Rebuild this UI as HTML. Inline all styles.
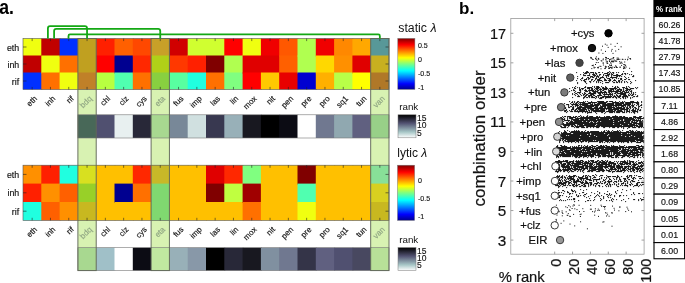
<!DOCTYPE html>
<html><head><meta charset="utf-8"><title>figure</title>
<style>html,body{margin:0;padding:0;background:#fff}svg{display:block}</style></head>
<body>
<svg width="685" height="283" viewBox="0 0 685 283" font-family='"Liberation Sans", sans-serif'>
<rect width="685" height="283" fill="#fff"/>
<defs>
<linearGradient id="jet" x1="0" y1="1" x2="0" y2="0"><stop offset="0" stop-color="#00008f"/><stop offset="0.11" stop-color="#0000ff"/><stop offset="0.365" stop-color="#00ffff"/><stop offset="0.5" stop-color="#80ff80"/><stop offset="0.62" stop-color="#ffff00"/><stop offset="0.875" stop-color="#ff0000"/><stop offset="1" stop-color="#800000"/></linearGradient>
<linearGradient id="bone" x1="0" y1="0" x2="0" y2="1"><stop offset="0" stop-color="#000000"/><stop offset="0.365" stop-color="#515171"/><stop offset="0.746" stop-color="#a6c6c6"/><stop offset="1" stop-color="#ffffff"/></linearGradient>
</defs>
<rect x="77.9" y="38.5" width="18.3" height="232.1" fill="#d8f2b2"/>
<rect x="151.1" y="38.5" width="18.3" height="232.1" fill="#d8f2b2"/>
<rect x="370.7" y="38.5" width="18.3" height="232.1" fill="#d8f2b2"/>
<rect x="23" y="38.5" width="19.3" height="18" fill="#f0ff10"/>
<rect x="23" y="55.5" width="19.3" height="18" fill="#c00000"/>
<rect x="23" y="72.5" width="19.3" height="17" fill="#0030ff"/>
<rect x="41.3" y="38.5" width="19.3" height="18" fill="#c00000"/>
<rect x="41.3" y="55.5" width="19.3" height="18" fill="#f0ff10"/>
<rect x="41.3" y="72.5" width="19.3" height="17" fill="#ff7000"/>
<rect x="59.6" y="38.5" width="19.3" height="18" fill="#0030ff"/>
<rect x="59.6" y="55.5" width="19.3" height="18" fill="#ff7000"/>
<rect x="59.6" y="72.5" width="19.3" height="17" fill="#f0ff10"/>
<rect x="77.9" y="38.5" width="19.3" height="18" fill="#c0a020"/>
<rect x="77.9" y="55.5" width="19.3" height="18" fill="#c0a020"/>
<rect x="77.9" y="72.5" width="19.3" height="17" fill="#c08028"/>
<rect x="96.2" y="38.5" width="19.3" height="18" fill="#ff2000"/>
<rect x="96.2" y="55.5" width="19.3" height="18" fill="#ff0000"/>
<rect x="96.2" y="72.5" width="19.3" height="17" fill="#b8ff40"/>
<rect x="114.5" y="38.5" width="19.3" height="18" fill="#ff6000"/>
<rect x="114.5" y="55.5" width="19.3" height="18" fill="#000090"/>
<rect x="114.5" y="72.5" width="19.3" height="17" fill="#50ffb0"/>
<rect x="132.8" y="38.5" width="19.3" height="18" fill="#ff4800"/>
<rect x="132.8" y="55.5" width="19.3" height="18" fill="#ff2800"/>
<rect x="132.8" y="72.5" width="19.3" height="17" fill="#ff7000"/>
<rect x="151.1" y="38.5" width="19.3" height="18" fill="#c8a028"/>
<rect x="151.1" y="55.5" width="19.3" height="18" fill="#b0d018"/>
<rect x="151.1" y="72.5" width="19.3" height="17" fill="#88d040"/>
<rect x="169.4" y="38.5" width="19.3" height="18" fill="#d00000"/>
<rect x="169.4" y="55.5" width="19.3" height="18" fill="#ff3800"/>
<rect x="169.4" y="72.5" width="19.3" height="17" fill="#58ffa0"/>
<rect x="187.7" y="38.5" width="19.3" height="18" fill="#d0ff30"/>
<rect x="187.7" y="55.5" width="19.3" height="18" fill="#ff2000"/>
<rect x="187.7" y="72.5" width="19.3" height="17" fill="#20ffe0"/>
<rect x="206" y="38.5" width="19.3" height="18" fill="#d0ff30"/>
<rect x="206" y="55.5" width="19.3" height="18" fill="#800000"/>
<rect x="206" y="72.5" width="19.3" height="17" fill="#ff7000"/>
<rect x="224.3" y="38.5" width="19.3" height="18" fill="#ff0000"/>
<rect x="224.3" y="55.5" width="19.3" height="18" fill="#b0ff50"/>
<rect x="224.3" y="72.5" width="19.3" height="17" fill="#80ff80"/>
<rect x="242.6" y="38.5" width="19.3" height="18" fill="#f0ff10"/>
<rect x="242.6" y="55.5" width="19.3" height="18" fill="#e00000"/>
<rect x="242.6" y="72.5" width="19.3" height="17" fill="#ff0000"/>
<rect x="260.9" y="38.5" width="19.3" height="18" fill="#f00000"/>
<rect x="260.9" y="55.5" width="19.3" height="18" fill="#e00000"/>
<rect x="260.9" y="72.5" width="19.3" height="17" fill="#ffc800"/>
<rect x="279.2" y="38.5" width="19.3" height="18" fill="#ff5800"/>
<rect x="279.2" y="55.5" width="19.3" height="18" fill="#ff6000"/>
<rect x="279.2" y="72.5" width="19.3" height="17" fill="#e80000"/>
<rect x="297.5" y="38.5" width="19.3" height="18" fill="#b0ff50"/>
<rect x="297.5" y="55.5" width="19.3" height="18" fill="#b0ff50"/>
<rect x="297.5" y="72.5" width="19.3" height="17" fill="#0000d0"/>
<rect x="315.8" y="38.5" width="19.3" height="18" fill="#f00000"/>
<rect x="315.8" y="55.5" width="19.3" height="18" fill="#ffd800"/>
<rect x="315.8" y="72.5" width="19.3" height="17" fill="#ffb000"/>
<rect x="334.1" y="38.5" width="19.3" height="18" fill="#ff8800"/>
<rect x="334.1" y="55.5" width="19.3" height="18" fill="#ff9000"/>
<rect x="334.1" y="72.5" width="19.3" height="17" fill="#b8ff48"/>
<rect x="352.4" y="38.5" width="19.3" height="18" fill="#ffa800"/>
<rect x="352.4" y="55.5" width="19.3" height="18" fill="#e00000"/>
<rect x="352.4" y="72.5" width="19.3" height="17" fill="#ffff00"/>
<rect x="370.7" y="38.5" width="18.3" height="18" fill="#589898"/>
<rect x="370.7" y="55.5" width="18.3" height="18" fill="#c8b020"/>
<rect x="370.7" y="72.5" width="18.3" height="17" fill="#b07828"/>
<rect x="23.0" y="38.5" width="366" height="51" fill="none" stroke="#555" stroke-width="0.6"/>
<path d="M32.15 38.5v2.6M32.15 89.5v-2.6M50.45 38.5v2.6M50.45 89.5v-2.6M68.75 38.5v2.6M68.75 89.5v-2.6M87.05 38.5v2.6M87.05 89.5v-2.6M105.35 38.5v2.6M105.35 89.5v-2.6M123.65 38.5v2.6M123.65 89.5v-2.6M141.95 38.5v2.6M141.95 89.5v-2.6M160.25 38.5v2.6M160.25 89.5v-2.6M178.55 38.5v2.6M178.55 89.5v-2.6M196.85 38.5v2.6M196.85 89.5v-2.6M215.15 38.5v2.6M215.15 89.5v-2.6M233.45 38.5v2.6M233.45 89.5v-2.6M251.75 38.5v2.6M251.75 89.5v-2.6M270.05 38.5v2.6M270.05 89.5v-2.6M288.35 38.5v2.6M288.35 89.5v-2.6M306.65 38.5v2.6M306.65 89.5v-2.6M324.95 38.5v2.6M324.95 89.5v-2.6M343.25 38.5v2.6M343.25 89.5v-2.6M361.55 38.5v2.6M361.55 89.5v-2.6M379.85 38.5v2.6M379.85 89.5v-2.6M23.0 47h3.5M389 47h-3.5M23.0 64h3.5M389 64h-3.5M23.0 81h3.5M389 81h-3.5" stroke="#222" stroke-width="0.6" fill="none"/>
<text x="19.2" y="50.6" font-size="8.8" text-anchor="end" fill="#111" stroke="#111" stroke-width="0.15">eth</text>
<text x="19.2" y="67.6" font-size="8.8" text-anchor="end" fill="#111" stroke="#111" stroke-width="0.15">inh</text>
<text x="19.2" y="84.6" font-size="8.8" text-anchor="end" fill="#111" stroke="#111" stroke-width="0.15">rif</text>
<text transform="translate(37.65 99.1) rotate(-45)" font-size="8.0" text-anchor="end" fill="#111" stroke="#111" stroke-width="0.15">eth</text>
<text transform="translate(55.95 99.1) rotate(-45)" font-size="8.0" text-anchor="end" fill="#111" stroke="#111" stroke-width="0.15">inh</text>
<text transform="translate(74.25 99.1) rotate(-45)" font-size="8.0" text-anchor="end" fill="#111" stroke="#111" stroke-width="0.15">rif</text>
<text transform="translate(92.55 99.1) rotate(-45)" font-size="8.0" text-anchor="end" fill="#8fa583" stroke="#8fa583" stroke-width="0.15">bdq</text>
<text transform="translate(110.85 99.1) rotate(-45)" font-size="8.0" text-anchor="end" fill="#111" stroke="#111" stroke-width="0.15">chl</text>
<text transform="translate(129.15 99.1) rotate(-45)" font-size="8.0" text-anchor="end" fill="#111" stroke="#111" stroke-width="0.15">clz</text>
<text transform="translate(147.45 99.1) rotate(-45)" font-size="8.0" text-anchor="end" fill="#111" stroke="#111" stroke-width="0.15">cys</text>
<text transform="translate(165.75 99.1) rotate(-45)" font-size="8.0" text-anchor="end" fill="#8fa583" stroke="#8fa583" stroke-width="0.15">eta</text>
<text transform="translate(184.05 99.1) rotate(-45)" font-size="8.0" text-anchor="end" fill="#111" stroke="#111" stroke-width="0.15">fus</text>
<text transform="translate(202.35 99.1) rotate(-45)" font-size="8.0" text-anchor="end" fill="#111" stroke="#111" stroke-width="0.15">imp</text>
<text transform="translate(220.65 99.1) rotate(-45)" font-size="8.0" text-anchor="end" fill="#111" stroke="#111" stroke-width="0.15">las</text>
<text transform="translate(238.95 99.1) rotate(-45)" font-size="8.0" text-anchor="end" fill="#111" stroke="#111" stroke-width="0.15">lin</text>
<text transform="translate(257.25 99.1) rotate(-45)" font-size="8.0" text-anchor="end" fill="#111" stroke="#111" stroke-width="0.15">mox</text>
<text transform="translate(275.55 99.1) rotate(-45)" font-size="8.0" text-anchor="end" fill="#111" stroke="#111" stroke-width="0.15">nit</text>
<text transform="translate(293.85 99.1) rotate(-45)" font-size="8.0" text-anchor="end" fill="#111" stroke="#111" stroke-width="0.15">pen</text>
<text transform="translate(312.15 99.1) rotate(-45)" font-size="8.0" text-anchor="end" fill="#111" stroke="#111" stroke-width="0.15">pre</text>
<text transform="translate(330.45 99.1) rotate(-45)" font-size="8.0" text-anchor="end" fill="#111" stroke="#111" stroke-width="0.15">pro</text>
<text transform="translate(348.75 99.1) rotate(-45)" font-size="8.0" text-anchor="end" fill="#111" stroke="#111" stroke-width="0.15">sq1</text>
<text transform="translate(367.05 99.1) rotate(-45)" font-size="8.0" text-anchor="end" fill="#111" stroke="#111" stroke-width="0.15">tun</text>
<text transform="translate(385.35 99.1) rotate(-45)" font-size="8.0" text-anchor="end" fill="#8fa583" stroke="#8fa583" stroke-width="0.15">van</text>
<rect x="23" y="165.2" width="19.3" height="19.4" fill="#ff9000"/>
<rect x="23" y="183.6" width="19.3" height="19.4" fill="#ff2000"/>
<rect x="23" y="202" width="19.3" height="18.4" fill="#20ffe0"/>
<rect x="41.3" y="165.2" width="19.3" height="19.4" fill="#ff2000"/>
<rect x="41.3" y="183.6" width="19.3" height="19.4" fill="#ff9000"/>
<rect x="41.3" y="202" width="19.3" height="18.4" fill="#ff6000"/>
<rect x="59.6" y="165.2" width="19.3" height="19.4" fill="#20ffe0"/>
<rect x="59.6" y="183.6" width="19.3" height="19.4" fill="#ff6000"/>
<rect x="59.6" y="202" width="19.3" height="18.4" fill="#ff9000"/>
<rect x="77.9" y="165.2" width="19.3" height="19.4" fill="#d8e020"/>
<rect x="77.9" y="183.6" width="19.3" height="19.4" fill="#98d028"/>
<rect x="77.9" y="202" width="19.3" height="18.4" fill="#c8b820"/>
<rect x="96.2" y="165.2" width="19.3" height="19.4" fill="#ffc000"/>
<rect x="96.2" y="183.6" width="19.3" height="19.4" fill="#ffc000"/>
<rect x="96.2" y="202" width="19.3" height="18.4" fill="#ffc000"/>
<rect x="114.5" y="165.2" width="19.3" height="19.4" fill="#ffc000"/>
<rect x="114.5" y="183.6" width="19.3" height="19.4" fill="#000090"/>
<rect x="114.5" y="202" width="19.3" height="18.4" fill="#ffc000"/>
<rect x="132.8" y="165.2" width="19.3" height="19.4" fill="#ff2800"/>
<rect x="132.8" y="183.6" width="19.3" height="19.4" fill="#ff7000"/>
<rect x="132.8" y="202" width="19.3" height="18.4" fill="#ffc000"/>
<rect x="151.1" y="165.2" width="19.3" height="19.4" fill="#c8b828"/>
<rect x="151.1" y="183.6" width="19.3" height="19.4" fill="#80d870"/>
<rect x="151.1" y="202" width="19.3" height="18.4" fill="#80d870"/>
<rect x="169.4" y="165.2" width="19.3" height="19.4" fill="#ffc000"/>
<rect x="169.4" y="183.6" width="19.3" height="19.4" fill="#ffc000"/>
<rect x="169.4" y="202" width="19.3" height="18.4" fill="#ffc000"/>
<rect x="187.7" y="165.2" width="19.3" height="19.4" fill="#ffc000"/>
<rect x="187.7" y="183.6" width="19.3" height="19.4" fill="#ffc000"/>
<rect x="187.7" y="202" width="19.3" height="18.4" fill="#ffc000"/>
<rect x="206" y="165.2" width="19.3" height="19.4" fill="#e00000"/>
<rect x="206" y="183.6" width="19.3" height="19.4" fill="#800000"/>
<rect x="206" y="202" width="19.3" height="18.4" fill="#ffc000"/>
<rect x="224.3" y="165.2" width="19.3" height="19.4" fill="#ff2800"/>
<rect x="224.3" y="183.6" width="19.3" height="19.4" fill="#c0ff40"/>
<rect x="224.3" y="202" width="19.3" height="18.4" fill="#ffc000"/>
<rect x="242.6" y="165.2" width="19.3" height="19.4" fill="#80ff80"/>
<rect x="242.6" y="183.6" width="19.3" height="19.4" fill="#a00000"/>
<rect x="242.6" y="202" width="19.3" height="18.4" fill="#ff7000"/>
<rect x="260.9" y="165.2" width="19.3" height="19.4" fill="#ffc000"/>
<rect x="260.9" y="183.6" width="19.3" height="19.4" fill="#ffc000"/>
<rect x="260.9" y="202" width="19.3" height="18.4" fill="#ffc000"/>
<rect x="279.2" y="165.2" width="19.3" height="19.4" fill="#ffc000"/>
<rect x="279.2" y="183.6" width="19.3" height="19.4" fill="#ffc000"/>
<rect x="279.2" y="202" width="19.3" height="18.4" fill="#ffc000"/>
<rect x="297.5" y="165.2" width="19.3" height="19.4" fill="#800000"/>
<rect x="297.5" y="183.6" width="19.3" height="19.4" fill="#50ffb0"/>
<rect x="297.5" y="202" width="19.3" height="18.4" fill="#f0ff10"/>
<rect x="315.8" y="165.2" width="19.3" height="19.4" fill="#ffc000"/>
<rect x="315.8" y="183.6" width="19.3" height="19.4" fill="#ffc000"/>
<rect x="315.8" y="202" width="19.3" height="18.4" fill="#ffc000"/>
<rect x="334.1" y="165.2" width="19.3" height="19.4" fill="#ffc000"/>
<rect x="334.1" y="183.6" width="19.3" height="19.4" fill="#ffc000"/>
<rect x="334.1" y="202" width="19.3" height="18.4" fill="#ffc000"/>
<rect x="352.4" y="165.2" width="19.3" height="19.4" fill="#ffc000"/>
<rect x="352.4" y="183.6" width="19.3" height="19.4" fill="#ffc000"/>
<rect x="352.4" y="202" width="19.3" height="18.4" fill="#ffc000"/>
<rect x="370.7" y="165.2" width="18.3" height="19.4" fill="#88e098"/>
<rect x="370.7" y="183.6" width="18.3" height="19.4" fill="#d8d020"/>
<rect x="370.7" y="202" width="18.3" height="18.4" fill="#c8b820"/>
<rect x="23.0" y="165.2" width="366" height="55.2" fill="none" stroke="#555" stroke-width="0.6"/>
<path d="M32.15 165.2v2.6M32.15 220.4v-2.6M50.45 165.2v2.6M50.45 220.4v-2.6M68.75 165.2v2.6M68.75 220.4v-2.6M87.05 165.2v2.6M87.05 220.4v-2.6M105.35 165.2v2.6M105.35 220.4v-2.6M123.65 165.2v2.6M123.65 220.4v-2.6M141.95 165.2v2.6M141.95 220.4v-2.6M160.25 165.2v2.6M160.25 220.4v-2.6M178.55 165.2v2.6M178.55 220.4v-2.6M196.85 165.2v2.6M196.85 220.4v-2.6M215.15 165.2v2.6M215.15 220.4v-2.6M233.45 165.2v2.6M233.45 220.4v-2.6M251.75 165.2v2.6M251.75 220.4v-2.6M270.05 165.2v2.6M270.05 220.4v-2.6M288.35 165.2v2.6M288.35 220.4v-2.6M306.65 165.2v2.6M306.65 220.4v-2.6M324.95 165.2v2.6M324.95 220.4v-2.6M343.25 165.2v2.6M343.25 220.4v-2.6M361.55 165.2v2.6M361.55 220.4v-2.6M379.85 165.2v2.6M379.85 220.4v-2.6M23.0 174.4h3.5M389 174.4h-3.5M23.0 192.8h3.5M389 192.8h-3.5M23.0 211.2h3.5M389 211.2h-3.5" stroke="#222" stroke-width="0.6" fill="none"/>
<text x="19.2" y="178" font-size="8.8" text-anchor="end" fill="#111" stroke="#111" stroke-width="0.15">eth</text>
<text x="19.2" y="196.4" font-size="8.8" text-anchor="end" fill="#111" stroke="#111" stroke-width="0.15">inh</text>
<text x="19.2" y="214.8" font-size="8.8" text-anchor="end" fill="#111" stroke="#111" stroke-width="0.15">rif</text>
<text transform="translate(37.65 230) rotate(-45)" font-size="8.0" text-anchor="end" fill="#111" stroke="#111" stroke-width="0.15">eth</text>
<text transform="translate(55.95 230) rotate(-45)" font-size="8.0" text-anchor="end" fill="#111" stroke="#111" stroke-width="0.15">inh</text>
<text transform="translate(74.25 230) rotate(-45)" font-size="8.0" text-anchor="end" fill="#111" stroke="#111" stroke-width="0.15">rif</text>
<text transform="translate(92.55 230) rotate(-45)" font-size="8.0" text-anchor="end" fill="#8fa583" stroke="#8fa583" stroke-width="0.15">bdq</text>
<text transform="translate(110.85 230) rotate(-45)" font-size="8.0" text-anchor="end" fill="#111" stroke="#111" stroke-width="0.15">chl</text>
<text transform="translate(129.15 230) rotate(-45)" font-size="8.0" text-anchor="end" fill="#111" stroke="#111" stroke-width="0.15">clz</text>
<text transform="translate(147.45 230) rotate(-45)" font-size="8.0" text-anchor="end" fill="#111" stroke="#111" stroke-width="0.15">cys</text>
<text transform="translate(165.75 230) rotate(-45)" font-size="8.0" text-anchor="end" fill="#8fa583" stroke="#8fa583" stroke-width="0.15">eta</text>
<text transform="translate(184.05 230) rotate(-45)" font-size="8.0" text-anchor="end" fill="#111" stroke="#111" stroke-width="0.15">fus</text>
<text transform="translate(202.35 230) rotate(-45)" font-size="8.0" text-anchor="end" fill="#111" stroke="#111" stroke-width="0.15">imp</text>
<text transform="translate(220.65 230) rotate(-45)" font-size="8.0" text-anchor="end" fill="#111" stroke="#111" stroke-width="0.15">las</text>
<text transform="translate(238.95 230) rotate(-45)" font-size="8.0" text-anchor="end" fill="#111" stroke="#111" stroke-width="0.15">lin</text>
<text transform="translate(257.25 230) rotate(-45)" font-size="8.0" text-anchor="end" fill="#111" stroke="#111" stroke-width="0.15">mox</text>
<text transform="translate(275.55 230) rotate(-45)" font-size="8.0" text-anchor="end" fill="#111" stroke="#111" stroke-width="0.15">nit</text>
<text transform="translate(293.85 230) rotate(-45)" font-size="8.0" text-anchor="end" fill="#111" stroke="#111" stroke-width="0.15">pen</text>
<text transform="translate(312.15 230) rotate(-45)" font-size="8.0" text-anchor="end" fill="#111" stroke="#111" stroke-width="0.15">pre</text>
<text transform="translate(330.45 230) rotate(-45)" font-size="8.0" text-anchor="end" fill="#111" stroke="#111" stroke-width="0.15">pro</text>
<text transform="translate(348.75 230) rotate(-45)" font-size="8.0" text-anchor="end" fill="#111" stroke="#111" stroke-width="0.15">sq1</text>
<text transform="translate(367.05 230) rotate(-45)" font-size="8.0" text-anchor="end" fill="#111" stroke="#111" stroke-width="0.15">tun</text>
<text transform="translate(385.35 230) rotate(-45)" font-size="8.0" text-anchor="end" fill="#8fa583" stroke="#8fa583" stroke-width="0.15">van</text>
<rect x="77.9" y="114.8" width="19.3" height="23.2" fill="#486858"/>
<rect x="96.2" y="114.8" width="19.3" height="23.2" fill="#505070"/>
<rect x="114.5" y="114.8" width="19.3" height="23.2" fill="#e8f0f0"/>
<rect x="132.8" y="114.8" width="19.3" height="23.2" fill="#282838"/>
<rect x="151.1" y="114.8" width="19.3" height="23.2" fill="#a8d890"/>
<rect x="169.4" y="114.8" width="19.3" height="23.2" fill="#788898"/>
<rect x="187.7" y="114.8" width="19.3" height="23.2" fill="#d0e0e0"/>
<rect x="206" y="114.8" width="19.3" height="23.2" fill="#383850"/>
<rect x="224.3" y="114.8" width="19.3" height="23.2" fill="#98b0b8"/>
<rect x="242.6" y="114.8" width="19.3" height="23.2" fill="#181820"/>
<rect x="260.9" y="114.8" width="19.3" height="23.2" fill="#000000"/>
<rect x="279.2" y="114.8" width="19.3" height="23.2" fill="#0c0c14"/>
<rect x="297.5" y="114.8" width="19.3" height="23.2" fill="#ffffff"/>
<rect x="315.8" y="114.8" width="19.3" height="23.2" fill="#707890"/>
<rect x="334.1" y="114.8" width="19.3" height="23.2" fill="#90a8b0"/>
<rect x="352.4" y="114.8" width="19.3" height="23.2" fill="#606080"/>
<rect x="370.7" y="114.8" width="18.3" height="23.2" fill="#98d088"/>
<rect x="77.9" y="114.8" width="311.1" height="23.2" fill="none" stroke="#777" stroke-width="0.6"/>
<rect x="77.9" y="247.7" width="19.3" height="22.9" fill="#a8d890"/>
<rect x="96.2" y="247.7" width="19.3" height="22.9" fill="#a0c0c8"/>
<rect x="114.5" y="247.7" width="19.3" height="22.9" fill="#ffffff"/>
<rect x="132.8" y="247.7" width="19.3" height="22.9" fill="#0c0c14"/>
<rect x="151.1" y="247.7" width="19.3" height="22.9" fill="#c0e8a0"/>
<rect x="169.4" y="247.7" width="19.3" height="22.9" fill="#98b0b8"/>
<rect x="187.7" y="247.7" width="19.3" height="22.9" fill="#8898a8"/>
<rect x="206" y="247.7" width="19.3" height="22.9" fill="#000000"/>
<rect x="224.3" y="247.7" width="19.3" height="22.9" fill="#282838"/>
<rect x="242.6" y="247.7" width="19.3" height="22.9" fill="#181820"/>
<rect x="260.9" y="247.7" width="19.3" height="22.9" fill="#8090a0"/>
<rect x="279.2" y="247.7" width="19.3" height="22.9" fill="#707890"/>
<rect x="297.5" y="247.7" width="19.3" height="22.9" fill="#343448"/>
<rect x="315.8" y="247.7" width="19.3" height="22.9" fill="#606080"/>
<rect x="334.1" y="247.7" width="19.3" height="22.9" fill="#505070"/>
<rect x="352.4" y="247.7" width="19.3" height="22.9" fill="#484860"/>
<rect x="370.7" y="247.7" width="18.3" height="22.9" fill="#b8e098"/>
<rect x="77.9" y="247.7" width="311.1" height="22.9" fill="none" stroke="#777" stroke-width="0.6"/>
<rect x="77.9" y="38.5" width="18.3" height="232.1" fill="none" stroke="#62685a" stroke-width="0.95"/>
<rect x="151.1" y="38.5" width="18.3" height="232.1" fill="none" stroke="#62685a" stroke-width="0.95"/>
<rect x="370.7" y="38.5" width="18.3" height="232.1" fill="none" stroke="#62685a" stroke-width="0.95"/>
<path d="M47.9 38.5V28.4Q47.9 26.2 50.1 26.2H84.85Q87.05 26.2 87.05 28.4V38.5M54.1 38.5V31.1Q54.1 28.9 56.3 28.9H158.05Q160.25 28.9 160.25 31.1V38.5M68.5 38.5V35.9Q68.5 34.4 70 34.4H378.35Q379.85 34.4 379.85 35.9V38.5" fill="none" stroke="#14a814" stroke-width="1.8"/>
<text x="-0.8" y="14.3" font-size="19.3" font-weight="bold" fill="#000" textLength="14.7" lengthAdjust="spacingAndGlyphs">a.</text>
<text x="459" y="13.8" font-size="17" font-weight="bold" fill="#000">b.</text>
<rect x="397.8" y="38.4" width="17.1" height="51" fill="url(#jet)" stroke="#777" stroke-width="0.5"/>
<rect x="397.5" y="165.2" width="17.1" height="55.2" fill="url(#jet)" stroke="#777" stroke-width="0.5"/>
<rect x="398" y="114.8" width="18.0" height="23" fill="url(#bone)" stroke="#777" stroke-width="0.5"/>
<rect x="398" y="247.6" width="18.0" height="23" fill="url(#bone)" stroke="#777" stroke-width="0.5"/>
<text x="417.9" y="48.36" font-size="7.1" fill="#111" stroke="#111" stroke-width="0.12">0.5</text>
<text x="417.9" y="62.26" font-size="7.1" fill="#111" stroke="#111" stroke-width="0.12">0</text>
<text x="417.9" y="76.16" font-size="7.1" fill="#111" stroke="#111" stroke-width="0.12">-0.5</text>
<text x="417.9" y="89.96" font-size="7.1" fill="#111" stroke="#111" stroke-width="0.12">-1</text>
<text x="417.9" y="183.36" font-size="7.1" fill="#111" stroke="#111" stroke-width="0.12">0</text>
<text x="417.9" y="201.26" font-size="7.1" fill="#111" stroke="#111" stroke-width="0.12">-0.5</text>
<text x="417.9" y="218.76" font-size="7.1" fill="#111" stroke="#111" stroke-width="0.12">-1</text>
<text x="417.1" y="120.66" font-size="8.5" fill="#111" stroke="#111" stroke-width="0.12">15</text>
<text x="417.1" y="128.16" font-size="8.5" fill="#111" stroke="#111" stroke-width="0.12">10</text>
<text x="417.1" y="135.56" font-size="8.5" fill="#111" stroke="#111" stroke-width="0.12">5</text>
<text x="417.1" y="253.86" font-size="8.5" fill="#111" stroke="#111" stroke-width="0.12">15</text>
<text x="417.1" y="260.96" font-size="8.5" fill="#111" stroke="#111" stroke-width="0.12">10</text>
<text x="417.1" y="268.26" font-size="8.5" fill="#111" stroke="#111" stroke-width="0.12">5</text>
<text x="398.3" y="31.8" font-size="12.3" fill="#111">static <tspan font-style="italic">λ</tspan></text>
<text x="397.3" y="157.3" font-size="12" fill="#111">lytic <tspan font-style="italic">λ</tspan></text>
<text x="399.2" y="109.8" font-size="9.8" fill="#111">rank</text>
<text x="399.2" y="242.8" font-size="9.8" fill="#111">rank</text>
<path transform="translate(0.12 0.1)" d="M586 71.5h2M609 71.5h1M623 71.5h1M631 71.5h1M576 72.5h1M583 72.5h1M585 72.5h4M590 72.5h4M595 72.5h1M598 72.5h2M602 72.5h1M607 72.5h2M610 72.5h1M612 72.5h2M616 72.5h1M618 72.5h1M584 73.5h3M589 73.5h1M593 73.5h1M595 73.5h2M604 73.5h4M609 73.5h1M611 73.5h1M613 73.5h1M622 73.5h1M624 73.5h2M627 73.5h1M580 74.5h1M583 74.5h1M589 74.5h1M592 74.5h3M596 74.5h1M599 74.5h2M603 74.5h1M607 74.5h3M611 74.5h2M616 74.5h2M621 74.5h2M625 74.5h1M629 74.5h1M631 74.5h1M583 75.5h3M587 75.5h3M593 75.5h3M597 75.5h1M599 75.5h1M603 75.5h1M605 75.5h4M611 75.5h1M613 75.5h8M633 75.5h1M577 76.5h1M590 76.5h3M594 76.5h1M596 76.5h3M602 76.5h1M606 76.5h1M608 76.5h1M611 76.5h1M616 76.5h2M619 76.5h1M621 76.5h1M624 76.5h1M632 76.5h2M582 77.5h1M587 77.5h2M590 77.5h1M592 77.5h2M596 77.5h1M598 77.5h1M600 77.5h4M606 77.5h1M610 77.5h7M625 77.5h1M628 77.5h1M577 78.5h1M581 78.5h2M586 78.5h1M588 78.5h2M595 78.5h2M599 78.5h2M604 78.5h1M607 78.5h3M612 78.5h1M616 78.5h1M618 78.5h1M620 78.5h2M626 78.5h1M580 79.5h1M584 79.5h3M588 79.5h1M591 79.5h2M595 79.5h1M597 79.5h3M604 79.5h2M609 79.5h2M614 79.5h1M620 79.5h2M624 79.5h2M628 79.5h2M576 80.5h1M581 80.5h1M583 80.5h2M591 80.5h1M594 80.5h1M597 80.5h5M604 80.5h3M608 80.5h3M613 80.5h3M618 80.5h2M622 80.5h1M635 80.5h1M584 81.5h2M589 81.5h2M593 81.5h1M596 81.5h1M598 81.5h1M602 81.5h1M609 81.5h1M612 81.5h1M616 81.5h1M618 81.5h2M621 81.5h1M624 81.5h1M626 81.5h1M630 81.5h1M577 82.5h1M585 82.5h1M590 82.5h1M596 82.5h1M598 82.5h1M600 82.5h1M605 82.5h4M613 82.5h2M616 82.5h2M619 82.5h1M621 82.5h1M624 82.5h1M627 82.5h1M631 82.5h1M577 83.5h1M586 83.5h1M602 83.5h1M630 83.5h1M575 86.5h1M585 86.5h1M592 86.5h1M594 86.5h1M596 86.5h3M601 86.5h1M605 86.5h1M612 86.5h1M615 86.5h1M617 86.5h1M626 86.5h1M628 86.5h1M572 87.5h1M574 87.5h1M577 87.5h1M579 87.5h1M584 87.5h2M587 87.5h5M594 87.5h1M596 87.5h4M602 87.5h2M605 87.5h2M614 87.5h2M617 87.5h2M622 87.5h3M626 87.5h1M629 87.5h1M635 87.5h1M637 87.5h1M569 88.5h1M574 88.5h2M579 88.5h1M581 88.5h3M587 88.5h3M591 88.5h2M595 88.5h4M600 88.5h1M602 88.5h6M609 88.5h8M619 88.5h1M623 88.5h1M625 88.5h3M630 88.5h4M636 88.5h1M573 89.5h1M579 89.5h2M582 89.5h1M585 89.5h1M589 89.5h1M591 89.5h2M594 89.5h1M596 89.5h2M599 89.5h3M603 89.5h4M608 89.5h1M610 89.5h4M615 89.5h1M617 89.5h5M623 89.5h1M626 89.5h5M571 90.5h1M573 90.5h2M579 90.5h2M584 90.5h3M588 90.5h6M595 90.5h1M597 90.5h2M600 90.5h1M602 90.5h2M608 90.5h4M613 90.5h1M616 90.5h3M620 90.5h2M623 90.5h1M625 90.5h3M629 90.5h1M631 90.5h1M569 91.5h1M575 91.5h1M580 91.5h1M585 91.5h3M589 91.5h1M592 91.5h6M600 91.5h2M604 91.5h2M608 91.5h13M622 91.5h3M626 91.5h1M628 91.5h1M630 91.5h2M574 92.5h1M577 92.5h4M584 92.5h1M589 92.5h2M593 92.5h3M597 92.5h10M608 92.5h2M611 92.5h1M615 92.5h3M620 92.5h3M624 92.5h5M631 92.5h1M633 92.5h1M635 92.5h1M572 93.5h1M575 93.5h2M579 93.5h1M582 93.5h1M584 93.5h2M588 93.5h8M598 93.5h3M602 93.5h1M604 93.5h1M606 93.5h1M609 93.5h2M612 93.5h1M614 93.5h2M617 93.5h9M629 93.5h1M631 93.5h1M633 93.5h1M572 94.5h1M574 94.5h1M577 94.5h1M580 94.5h1M583 94.5h2M586 94.5h2M590 94.5h4M599 94.5h2M603 94.5h10M616 94.5h1M620 94.5h6M628 94.5h1M630 94.5h1M632 94.5h2M635 94.5h1M575 95.5h1M578 95.5h1M581 95.5h1M583 95.5h1M585 95.5h2M588 95.5h4M593 95.5h2M597 95.5h5M604 95.5h1M608 95.5h1M610 95.5h1M612 95.5h1M614 95.5h1M616 95.5h2M619 95.5h2M623 95.5h4M628 95.5h2M631 95.5h2M637 95.5h1M577 96.5h3M584 96.5h2M588 96.5h2M591 96.5h2M595 96.5h2M598 96.5h1M602 96.5h10M613 96.5h3M617 96.5h4M622 96.5h6M633 96.5h2M636 96.5h2M572 97.5h1M583 97.5h2M586 97.5h2M589 97.5h1M591 97.5h4M596 97.5h1M598 97.5h1M600 97.5h4M605 97.5h6M612 97.5h2M615 97.5h2M618 97.5h2M622 97.5h2M625 97.5h1M627 97.5h1M630 97.5h1M632 97.5h1M583 98.5h1M595 98.5h1M599 98.5h3M605 98.5h1M616 98.5h1M620 98.5h1M623 98.5h1M625 98.5h1M630 98.5h1M569 101.5h1M572 101.5h1M574 101.5h1M577 101.5h2M583 101.5h1M585 101.5h1M587 101.5h1M591 101.5h1M597 101.5h7M606 101.5h2M609 101.5h4M615 101.5h1M619 101.5h1M622 101.5h1M624 101.5h1M630 101.5h4M637 101.5h1M641 101.5h1M571 102.5h2M574 102.5h1M576 102.5h2M579 102.5h6M588 102.5h9M598 102.5h9M612 102.5h7M620 102.5h4M625 102.5h14M641 102.5h1M564 103.5h1M570 103.5h1M573 103.5h1M575 103.5h2M578 103.5h1M580 103.5h1M582 103.5h9M592 103.5h1M594 103.5h1M597 103.5h9M607 103.5h7M615 103.5h9M625 103.5h6M632 103.5h1M636 103.5h3M566 104.5h3M571 104.5h7M579 104.5h9M590 104.5h3M594 104.5h6M602 104.5h12M615 104.5h7M623 104.5h8M632 104.5h1M634 104.5h1M637 104.5h2M641 104.5h1M564 105.5h1M568 105.5h1M572 105.5h1M575 105.5h4M580 105.5h1M582 105.5h17M600 105.5h1M602 105.5h24M627 105.5h3M631 105.5h3M636 105.5h1M638 105.5h1M640 105.5h2M564 106.5h1M568 106.5h1M570 106.5h2M573 106.5h1M575 106.5h1M577 106.5h1M579 106.5h3M584 106.5h10M595 106.5h3M600 106.5h6M607 106.5h5M613 106.5h1M615 106.5h2M618 106.5h1M621 106.5h3M625 106.5h1M627 106.5h1M629 106.5h2M632 106.5h2M638 106.5h2M563 107.5h1M565 107.5h1M568 107.5h2M572 107.5h2M577 107.5h15M594 107.5h4M599 107.5h4M604 107.5h2M607 107.5h8M616 107.5h6M623 107.5h2M626 107.5h2M629 107.5h2M632 107.5h1M634 107.5h2M638 107.5h1M641 107.5h1M564 108.5h2M572 108.5h2M576 108.5h5M582 108.5h4M587 108.5h25M613 108.5h12M626 108.5h3M630 108.5h1M633 108.5h1M635 108.5h2M638 108.5h1M566 109.5h1M571 109.5h3M575 109.5h2M578 109.5h9M588 109.5h1M590 109.5h4M595 109.5h4M600 109.5h5M606 109.5h1M608 109.5h11M620 109.5h8M629 109.5h1M632 109.5h2M635 109.5h1M637 109.5h2M640 109.5h1M564 110.5h3M569 110.5h1M571 110.5h1M574 110.5h2M577 110.5h1M579 110.5h6M586 110.5h1M588 110.5h2M591 110.5h14M608 110.5h5M614 110.5h2M617 110.5h5M624 110.5h1M626 110.5h2M629 110.5h1M631 110.5h5M637 110.5h1M639 110.5h2M564 111.5h2M567 111.5h1M570 111.5h3M574 111.5h14M589 111.5h1M591 111.5h1M593 111.5h12M606 111.5h9M616 111.5h7M624 111.5h1M626 111.5h4M632 111.5h6M566 112.5h1M578 112.5h1M582 112.5h1M585 112.5h1M587 112.5h5M595 112.5h1M601 112.5h2M605 112.5h1M609 112.5h4M614 112.5h1M616 112.5h4M622 112.5h3M626 112.5h1M629 112.5h1M631 112.5h1M633 112.5h2M637 112.5h1M587 113.5h1M596 113.5h1M604 113.5h1M634 113.5h1M580 115.5h1M587 115.5h1M615 115.5h1M562 116.5h1M564 116.5h2M567 116.5h4M573 116.5h1M575 116.5h2M578 116.5h2M581 116.5h1M583 116.5h1M586 116.5h2M589 116.5h4M596 116.5h2M599 116.5h1M604 116.5h1M606 116.5h4M612 116.5h6M619 116.5h3M623 116.5h2M633 116.5h3M639 116.5h3M560 117.5h2M563 117.5h1M567 117.5h1M569 117.5h7M577 117.5h1M580 117.5h48M629 117.5h3M633 117.5h8M643 117.5h1M561 118.5h2M564 118.5h1M567 118.5h1M569 118.5h4M575 118.5h24M600 118.5h12M613 118.5h21M635 118.5h1M637 118.5h7M561 119.5h4M567 119.5h1M571 119.5h8M580 119.5h4M585 119.5h3M589 119.5h7M597 119.5h12M610 119.5h13M624 119.5h11M636 119.5h1M638 119.5h1M640 119.5h1M560 120.5h3M564 120.5h6M571 120.5h1M573 120.5h40M614 120.5h6M621 120.5h2M624 120.5h7M632 120.5h9M642 120.5h1M563 121.5h1M568 121.5h1M570 121.5h3M574 121.5h8M583 121.5h3M587 121.5h3M591 121.5h1M593 121.5h4M598 121.5h2M601 121.5h17M619 121.5h11M631 121.5h2M634 121.5h1M636 121.5h2M639 121.5h4M566 122.5h2M569 122.5h20M590 122.5h3M594 122.5h2M597 122.5h16M614 122.5h10M625 122.5h5M631 122.5h6M639 122.5h4M562 123.5h2M566 123.5h66M633 123.5h10M562 124.5h13M577 124.5h6M584 124.5h12M597 124.5h16M614 124.5h6M621 124.5h7M629 124.5h6M636 124.5h1M638 124.5h5M563 125.5h7M571 125.5h2M574 125.5h2M577 125.5h1M579 125.5h16M596 125.5h26M623 125.5h15M639 125.5h4M560 126.5h2M564 126.5h2M568 126.5h1M571 126.5h3M575 126.5h9M586 126.5h14M601 126.5h32M634 126.5h1M636 126.5h7M561 127.5h5M567 127.5h1M574 127.5h1M576 127.5h3M581 127.5h4M586 127.5h2M590 127.5h1M593 127.5h1M596 127.5h3M603 127.5h2M609 127.5h1M612 127.5h3M617 127.5h2M621 127.5h1M623 127.5h1M628 127.5h2M632 127.5h4M638 127.5h2M641 127.5h1M643 127.5h1M623 128.5h1M627 128.5h1M564 130.5h1M567 130.5h1M574 130.5h1M576 130.5h1M578 130.5h1M585 130.5h1M604 130.5h1M606 130.5h1M608 130.5h1M612 130.5h1M617 130.5h1M619 130.5h1M622 130.5h1M629 130.5h2M632 130.5h1M636 130.5h1M559 131.5h1M564 131.5h2M569 131.5h1M571 131.5h9M581 131.5h2M584 131.5h1M587 131.5h2M590 131.5h9M601 131.5h1M603 131.5h2M607 131.5h3M611 131.5h1M613 131.5h6M620 131.5h1M626 131.5h3M630 131.5h4M635 131.5h1M637 131.5h3M641 131.5h1M643 131.5h1M558 132.5h1M561 132.5h1M563 132.5h4M570 132.5h74M558 133.5h1M561 133.5h10M573 133.5h17M591 133.5h13M605 133.5h16M622 133.5h5M628 133.5h1M630 133.5h14M559 134.5h1M561 134.5h26M588 134.5h2M591 134.5h17M609 134.5h33M559 135.5h7M567 135.5h1M569 135.5h11M581 135.5h13M595 135.5h12M608 135.5h13M622 135.5h9M632 135.5h10M643 135.5h1M558 136.5h31M590 136.5h6M597 136.5h28M626 136.5h3M630 136.5h4M635 136.5h9M558 137.5h3M562 137.5h47M610 137.5h34M560 138.5h19M580 138.5h29M610 138.5h28M639 138.5h5M558 139.5h3M562 139.5h2M565 139.5h78M559 140.5h2M562 140.5h1M564 140.5h2M567 140.5h14M582 140.5h11M594 140.5h1M596 140.5h39M636 140.5h8M559 141.5h1M563 141.5h1M565 141.5h10M576 141.5h3M580 141.5h4M585 141.5h2M588 141.5h10M599 141.5h4M605 141.5h4M610 141.5h6M617 141.5h12M630 141.5h6M637 141.5h1M640 141.5h4M559 142.5h1M563 142.5h1M568 142.5h1M571 142.5h1M575 142.5h1M578 142.5h1M581 142.5h1M588 142.5h1M599 142.5h2M602 142.5h1M604 142.5h1M607 142.5h1M609 142.5h1M613 142.5h1M618 142.5h1M621 142.5h1M623 142.5h1M627 142.5h2M631 142.5h1M636 142.5h5M643 142.5h1M557 145.5h1M560 145.5h2M564 145.5h1M578 145.5h2M581 145.5h1M584 145.5h1M587 145.5h1M591 145.5h2M596 145.5h2M600 145.5h2M603 145.5h1M605 145.5h2M611 145.5h1M613 145.5h1M619 145.5h1M624 145.5h1M636 145.5h3M641 145.5h1M556 146.5h2M561 146.5h6M570 146.5h1M572 146.5h1M574 146.5h1M576 146.5h1M578 146.5h1M581 146.5h1M583 146.5h1M585 146.5h3M589 146.5h2M592 146.5h4M598 146.5h7M606 146.5h4M611 146.5h7M619 146.5h5M626 146.5h1M628 146.5h8M638 146.5h6M556 147.5h15M572 147.5h21M594 147.5h1M596 147.5h44M642 147.5h2M557 148.5h25M583 148.5h8M592 148.5h12M605 148.5h16M622 148.5h2M625 148.5h1M628 148.5h2M631 148.5h1M633 148.5h4M638 148.5h6M557 149.5h1M559 149.5h8M570 149.5h5M576 149.5h5M582 149.5h3M586 149.5h8M595 149.5h3M599 149.5h1M601 149.5h17M619 149.5h2M622 149.5h7M630 149.5h1M632 149.5h11M556 150.5h1M559 150.5h4M564 150.5h15M580 150.5h10M591 150.5h18M610 150.5h9M621 150.5h5M627 150.5h11M640 150.5h4M556 151.5h5M562 151.5h8M571 151.5h11M583 151.5h1M585 151.5h1M587 151.5h31M619 151.5h10M630 151.5h3M634 151.5h1M636 151.5h3M640 151.5h3M556 152.5h2M559 152.5h5M565 152.5h45M611 152.5h1M613 152.5h7M621 152.5h7M629 152.5h14M557 153.5h3M561 153.5h4M566 153.5h8M575 153.5h6M582 153.5h9M592 153.5h4M597 153.5h13M611 153.5h1M613 153.5h8M622 153.5h9M632 153.5h6M640 153.5h1M642 153.5h2M558 154.5h29M588 154.5h8M597 154.5h3M601 154.5h5M608 154.5h2M611 154.5h1M613 154.5h2M616 154.5h4M623 154.5h4M628 154.5h7M636 154.5h5M642 154.5h2M556 155.5h2M559 155.5h12M572 155.5h22M595 155.5h6M602 155.5h12M615 155.5h15M632 155.5h7M640 155.5h1M642 155.5h2M556 156.5h3M560 156.5h1M562 156.5h9M572 156.5h1M574 156.5h4M579 156.5h3M583 156.5h4M588 156.5h1M590 156.5h4M598 156.5h3M602 156.5h4M607 156.5h5M615 156.5h3M622 156.5h3M627 156.5h2M630 156.5h3M634 156.5h1M637 156.5h1M642 156.5h1M556 157.5h1M558 157.5h1M575 157.5h2M578 157.5h2M583 157.5h1M587 157.5h1M591 157.5h1M595 157.5h1M598 157.5h1M608 157.5h1M611 157.5h3M615 157.5h2M618 157.5h1M621 157.5h2M629 157.5h1M633 157.5h2M637 157.5h1M640 157.5h1M643 157.5h1M558 160.5h2M563 160.5h1M565 160.5h3M573 160.5h1M576 160.5h1M578 160.5h1M580 160.5h3M588 160.5h1M590 160.5h4M597 160.5h2M601 160.5h2M605 160.5h1M607 160.5h1M624 160.5h1M627 160.5h1M629 160.5h1M638 160.5h1M555 161.5h13M569 161.5h5M575 161.5h6M582 161.5h2M585 161.5h2M588 161.5h2M591 161.5h3M595 161.5h3M599 161.5h2M602 161.5h3M606 161.5h2M609 161.5h2M614 161.5h1M616 161.5h1M618 161.5h1M620 161.5h6M627 161.5h1M629 161.5h5M636 161.5h1M641 161.5h1M643 161.5h1M556 162.5h6M566 162.5h5M572 162.5h2M576 162.5h7M584 162.5h5M590 162.5h1M592 162.5h5M598 162.5h9M608 162.5h6M617 162.5h1M620 162.5h1M622 162.5h6M629 162.5h2M632 162.5h2M635 162.5h1M638 162.5h5M556 163.5h3M560 163.5h2M563 163.5h3M567 163.5h3M571 163.5h10M582 163.5h11M596 163.5h4M601 163.5h6M608 163.5h8M617 163.5h1M619 163.5h4M624 163.5h7M633 163.5h2M636 163.5h1M638 163.5h3M642 163.5h2M555 164.5h2M559 164.5h1M561 164.5h5M567 164.5h4M572 164.5h1M574 164.5h9M584 164.5h2M587 164.5h1M589 164.5h4M594 164.5h1M596 164.5h14M611 164.5h1M613 164.5h3M618 164.5h1M620 164.5h5M626 164.5h2M629 164.5h2M632 164.5h6M641 164.5h1M643 164.5h1M556 165.5h1M558 165.5h2M561 165.5h4M566 165.5h3M570 165.5h9M582 165.5h6M589 165.5h3M593 165.5h1M596 165.5h1M598 165.5h5M605 165.5h2M608 165.5h4M613 165.5h2M616 165.5h4M621 165.5h1M628 165.5h1M631 165.5h1M633 165.5h3M638 165.5h1M640 165.5h4M556 166.5h4M561 166.5h9M571 166.5h1M573 166.5h11M585 166.5h8M594 166.5h21M616 166.5h7M624 166.5h7M632 166.5h3M637 166.5h6M558 167.5h2M562 167.5h8M571 167.5h1M573 167.5h3M577 167.5h7M585 167.5h3M589 167.5h8M598 167.5h5M604 167.5h4M610 167.5h5M616 167.5h7M624 167.5h3M628 167.5h1M630 167.5h1M632 167.5h6M639 167.5h1M641 167.5h1M558 168.5h2M563 168.5h1M565 168.5h1M567 168.5h6M574 168.5h4M579 168.5h1M581 168.5h7M589 168.5h7M597 168.5h6M605 168.5h1M608 168.5h1M610 168.5h3M614 168.5h2M617 168.5h4M622 168.5h4M627 168.5h2M630 168.5h4M635 168.5h6M642 168.5h2M556 169.5h5M562 169.5h9M572 169.5h10M583 169.5h2M587 169.5h1M589 169.5h1M591 169.5h13M606 169.5h1M609 169.5h8M618 169.5h1M620 169.5h1M622 169.5h3M626 169.5h1M628 169.5h3M632 169.5h3M636 169.5h3M640 169.5h3M556 170.5h1M558 170.5h4M563 170.5h6M570 170.5h2M574 170.5h2M578 170.5h1M580 170.5h1M582 170.5h2M588 170.5h8M598 170.5h7M606 170.5h4M611 170.5h1M615 170.5h1M617 170.5h2M620 170.5h6M627 170.5h1M630 170.5h1M632 170.5h3M637 170.5h1M639 170.5h3M643 170.5h1M555 171.5h4M560 171.5h1M563 171.5h2M567 171.5h1M569 171.5h1M571 171.5h3M577 171.5h1M580 171.5h1M582 171.5h1M587 171.5h3M591 171.5h2M596 171.5h4M602 171.5h2M608 171.5h3M612 171.5h3M616 171.5h6M624 171.5h1M628 171.5h1M630 171.5h2M633 171.5h1M636 171.5h2M639 171.5h1M642 171.5h1M557 172.5h1M568 172.5h1M583 172.5h1M612 172.5h1M623 172.5h1M634 172.5h1M640 172.5h1M595 174.5h1M557 175.5h1M559 175.5h1M562 175.5h1M566 175.5h1M569 175.5h1M573 175.5h3M583 175.5h1M585 175.5h2M588 175.5h1M592 175.5h2M596 175.5h1M600 175.5h3M606 175.5h1M617 175.5h1M627 175.5h1M629 175.5h3M634 175.5h1M636 175.5h1M556 176.5h4M561 176.5h2M564 176.5h1M568 176.5h7M576 176.5h1M578 176.5h1M582 176.5h2M585 176.5h1M587 176.5h1M589 176.5h2M594 176.5h1M599 176.5h1M607 176.5h4M612 176.5h4M617 176.5h2M621 176.5h1M626 176.5h2M629 176.5h1M631 176.5h1M638 176.5h3M555 177.5h1M557 177.5h2M560 177.5h3M564 177.5h2M567 177.5h1M569 177.5h3M573 177.5h1M578 177.5h5M585 177.5h3M590 177.5h1M593 177.5h3M601 177.5h1M604 177.5h1M606 177.5h1M608 177.5h1M616 177.5h2M619 177.5h1M627 177.5h2M631 177.5h1M633 177.5h2M642 177.5h1M555 178.5h2M559 178.5h1M562 178.5h1M565 178.5h1M567 178.5h7M577 178.5h1M579 178.5h9M590 178.5h1M592 178.5h1M599 178.5h1M601 178.5h1M606 178.5h1M609 178.5h1M613 178.5h1M616 178.5h1M619 178.5h1M623 178.5h3M627 178.5h1M632 178.5h2M635 178.5h1M639 178.5h3M643 178.5h1M556 179.5h1M558 179.5h2M561 179.5h1M564 179.5h1M566 179.5h1M568 179.5h1M570 179.5h5M577 179.5h2M580 179.5h2M583 179.5h1M586 179.5h5M593 179.5h7M603 179.5h1M605 179.5h1M609 179.5h2M614 179.5h1M616 179.5h1M619 179.5h2M624 179.5h2M628 179.5h2M633 179.5h1M555 180.5h6M562 180.5h1M564 180.5h2M569 180.5h2M573 180.5h2M576 180.5h3M581 180.5h1M583 180.5h1M585 180.5h1M589 180.5h3M593 180.5h1M596 180.5h1M603 180.5h2M608 180.5h1M611 180.5h1M618 180.5h1M620 180.5h1M624 180.5h1M626 180.5h1M631 180.5h2M638 180.5h1M555 181.5h1M557 181.5h1M560 181.5h1M562 181.5h1M565 181.5h4M571 181.5h1M573 181.5h8M582 181.5h1M585 181.5h2M593 181.5h1M596 181.5h1M600 181.5h1M602 181.5h1M605 181.5h1M607 181.5h5M614 181.5h3M618 181.5h1M620 181.5h2M624 181.5h2M627 181.5h1M630 181.5h1M632 181.5h3M557 182.5h5M563 182.5h4M568 182.5h3M573 182.5h4M580 182.5h4M585 182.5h3M589 182.5h3M597 182.5h2M600 182.5h1M604 182.5h2M608 182.5h2M613 182.5h1M616 182.5h1M623 182.5h1M627 182.5h1M630 182.5h1M637 182.5h3M641 182.5h3M555 183.5h11M568 183.5h2M571 183.5h1M574 183.5h1M576 183.5h1M581 183.5h2M584 183.5h5M590 183.5h2M594 183.5h4M599 183.5h1M601 183.5h2M604 183.5h1M607 183.5h1M609 183.5h1M614 183.5h1M618 183.5h1M621 183.5h3M625 183.5h1M627 183.5h1M631 183.5h1M636 183.5h2M556 184.5h2M559 184.5h1M561 184.5h3M565 184.5h1M568 184.5h1M572 184.5h3M576 184.5h1M578 184.5h2M583 184.5h2M588 184.5h1M590 184.5h2M593 184.5h1M596 184.5h1M606 184.5h2M609 184.5h2M612 184.5h1M614 184.5h1M616 184.5h1M618 184.5h1M621 184.5h1M625 184.5h1M629 184.5h2M632 184.5h1M636 184.5h2M640 184.5h1M642 184.5h2M555 185.5h4M560 185.5h1M563 185.5h3M567 185.5h1M569 185.5h2M572 185.5h2M575 185.5h3M581 185.5h2M584 185.5h2M588 185.5h1M590 185.5h1M593 185.5h1M595 185.5h1M598 185.5h2M605 185.5h1M608 185.5h1M610 185.5h1M616 185.5h1M620 185.5h1M622 185.5h1M624 185.5h4M630 185.5h1M634 185.5h4M639 185.5h1M641 185.5h1M558 186.5h2M562 186.5h1M573 186.5h2M576 186.5h1M579 186.5h2M583 186.5h3M588 186.5h1M595 186.5h1M599 186.5h1M602 186.5h1M606 186.5h1M608 186.5h1M610 186.5h1M617 186.5h2M627 186.5h1M633 186.5h1M638 186.5h1M558 187.5h1M566 187.5h1M571 189.5h1M580 189.5h1M586 189.5h1M622 189.5h1M630 189.5h1M558 190.5h1M562 190.5h2M571 190.5h2M574 190.5h1M583 190.5h1M617 190.5h1M626 190.5h1M564 191.5h1M567 191.5h1M572 191.5h2M575 191.5h1M597 191.5h1M607 191.5h1M615 191.5h1M555 192.5h2M558 192.5h2M561 192.5h1M567 192.5h2M575 192.5h1M582 192.5h2M591 192.5h1M599 192.5h1M615 192.5h1M621 192.5h1M633 192.5h1M558 193.5h1M563 193.5h1M569 193.5h2M572 193.5h1M579 193.5h1M586 193.5h1M594 193.5h1M599 193.5h1M604 193.5h1M609 193.5h1M616 193.5h1M633 193.5h1M638 193.5h2M642 193.5h1M556 194.5h1M558 194.5h1M569 194.5h1M576 194.5h1M584 194.5h2M597 194.5h1M606 194.5h2M609 194.5h1M611 194.5h1M631 194.5h1M634 194.5h1M559 195.5h2M562 195.5h1M576 195.5h1M578 195.5h1M580 195.5h1M583 195.5h1M590 195.5h1M596 195.5h1M598 195.5h1M601 195.5h1M608 195.5h1M610 195.5h1M614 195.5h1M619 195.5h2M623 195.5h1M626 195.5h1M559 196.5h1M566 196.5h1M569 196.5h1M571 196.5h1M577 196.5h2M584 196.5h1M588 196.5h1M595 196.5h1M599 196.5h1M603 196.5h1M607 196.5h1M614 196.5h1M619 196.5h1M556 197.5h4M568 197.5h1M586 197.5h1M594 197.5h1M603 197.5h1M608 197.5h1M610 197.5h1M643 197.5h1M555 198.5h1M573 198.5h2M589 198.5h1M600 198.5h1M603 198.5h1M612 198.5h1M628 198.5h1M640 198.5h1M560 199.5h1M567 199.5h1M569 199.5h1M571 199.5h1M573 199.5h2M594 199.5h1M601 199.5h1M611 199.5h1M613 199.5h1M616 199.5h1M623 199.5h1M633 199.5h2M638 199.5h1M641 199.5h3M559 200.5h1M561 200.5h1M563 200.5h1M565 200.5h1M578 200.5h1M587 200.5h2M590 200.5h1M593 200.5h1M600 200.5h1M606 200.5h1M609 200.5h1M611 200.5h1M621 200.5h1M638 200.5h1M641 200.5h1M574 201.5h1M585 201.5h1M612 201.5h1M625 201.5h1" stroke="#050505" stroke-width="1.0" fill="none"/>
<path d="M607.9 58.5h1M595.0 58.3h1M614.8 60.8h1M629.6 58.5h1M609.7 65.6h1M607.2 63.5h1M608.4 68.3h1M625.1 65.4h1M602.8 58.9h1M613.2 61.7h1M609.8 67.6h1M611.2 67.5h1M609.1 61.5h1M590.6 58.4h1M594.5 67.5h1M610.1 67.4h1M592.6 59.5h1M591.7 65.6h1M604.7 68.5h1M593.4 67.0h1M602.6 59.8h1M614.0 67.4h1M610.4 59.1h1M615.5 66.9h1M611.4 68.5h1M606.0 57.6h1M608.8 68.1h1M605.2 59.2h1M623.3 64.6h1M615.2 65.8h1M610.8 65.7h1M623.4 67.9h1M624.4 68.5h1M604.9 66.3h1M624.3 64.5h1M616.6 59.4h1M599.5 66.3h1M591.9 59.1h1M611.5 60.9h1M605.8 61.9h1M624.8 59.4h1M609.7 59.6h1M613.7 60.0h1M617.9 59.5h1M609.0 65.0h1M610.8 64.0h1M617.9 58.2h1M605.6 60.1h1M627.3 59.2h1M619.6 67.2h1M592.8 65.2h1M621.1 65.4h1M610.0 62.9h1M606.5 58.5h1M608.6 68.0h1M621.1 62.2h1M616.7 67.5h1M616.7 58.0h1M616.1 67.5h1M600.5 68.8h1M598.3 59.3h1M616.2 61.0h1M624.3 66.1h1M623.2 66.8h1M612.8 57.5h1M597.8 67.2h1M608.7 68.4h1M627.0 59.8h1M621.6 63.3h1M598.1 58.4h1M611.5 58.8h1M595.0 64.5h1M611.1 61.4h1M619.2 61.6h1M600.4 66.4h1M592.2 65.5h1M615.8 66.8h1M621.8 59.3h1M606.8 61.4h1M613.2 57.5h1M604.9 67.2h1M625.7 67.0h1M597.7 62.5h1M597.0 67.7h1M601.3 61.0h1M629.7 58.6h1M591.3 68.6h1M605.0 57.4h1M595.3 58.8h1M619.5 63.2h1M595.9 59.3h1M612.6 61.8h1M611.4 61.9h1M595.8 62.6h1M624.2 62.0h1M616.9 59.3h1M602.6 63.0h1M606.8 62.2h1M596.7 60.3h1M624.2 67.5h1M605.5 67.2h1M627.8 57.1h1M609.0 59.7h1M605.7 66.7h1M620.1 63.0h1M607.9 66.5h1M602.8 63.1h1M612.3 67.1h1M610.9 65.4h1M591.0 57.8h1M613.4 61.0h1M606.6 63.4h1M598.0 67.8h1M615.5 61.5h1M612.1 61.4h1M597.8 58.9h1M600.7 60.7h1M629.1 68.3h1M630.1 59.1h1M602.9 65.0h1M593.7 68.0h1M622.4 59.4h1M604.4 68.6h1M619.6 67.2h1M608.9 60.9h1M619.3 59.3h1M590.2 57.4h1M623.0 68.6h1M612.7 58.6h1M595.9 56.9h1M571.6 208.5h1M604.1 207.0h1M561.7 212.4h1M619.5 207.0h1M557.5 211.6h1M607.1 214.8h1M631.0 211.8h1M627.2 208.9h1M604.3 209.1h1M580.6 214.1h1M592.1 211.6h1M576.5 209.6h1M606.0 216.0h1M614.0 210.1h1M555.3 208.2h1M558.7 211.7h1M566.7 215.3h1M569.6 210.4h1M604.8 206.5h1M626.5 207.2h1M579.0 211.6h1M608.6 216.2h1M594.0 212.0h1M613.6 208.3h1M579.9 216.5h1M573.4 204.7h1M572.5 206.0h1M601.2 206.4h1M589.9 209.2h1M611.2 212.8h1M597.8 209.1h1M604.0 207.0h1M619.2 207.1h1M579.7 214.6h1M598.0 216.4h1M578.6 205.3h1M583.4 211.5h1M567.3 215.4h1M565.2 206.8h1M594.8 210.9h1M618.4 210.8h1M574.3 208.8h1M557.5 211.2h1M561.6 210.9h1M567.8 213.6h1M611.8 213.0h1M606.4 213.1h1M612.0 206.1h1M582.3 208.7h1M594.2 215.2h1M569.4 216.2h1M569.7 216.5h1M597.4 210.5h1M573.1 214.4h1M568.3 205.6h1M590.9 209.2h1M603.2 206.5h1M558.2 210.9h1M557.2 210.8h1M605.0 212.8h1M561.8 215.8h1M590.2 205.4h1M598.9 210.3h1M594.9 208.8h1M555.9 205.2h1M566.8 207.6h1M625.2 211.6h1M628.1 210.3h1M556.5 215.1h1M600.6 205.2h1M573.8 205.3h1M562.3 213.5h1M565.7 211.8h1M568.9 209.8h1M569.8 206.9h1M569.5 224.1h1M586.9 228.8h1M555.7 227.6h1M555.4 222.0h1M563.3 220.9h1M574.2 225.9h1M611.5 226.2h1M560.6 223.3h1M602.4 222.1h1M555.6 219.4h1M580.1 221.8h1M603.4 221.8h1M555.9 220.2h1M555.3 221.5h1M602.0 46.2h1M604.8 44.2h1M610.4 44.2h1M616.8 43.4h1M607.7 47.4h1M620.6 46.8h1M598.4 53.0h1M602.4 53.4h1M605.0 51.4h1M611.0 51.0h1M615.2 51.0h1M612.5 53.4h1M611.6 49.4h1M606.5 45.2h1M614.6 46.4h1M600.8 50.0h1M618.2 49.4h1" stroke="#111" stroke-width="1" fill="none"/>
<rect x="510.8" y="18.5" width="133.3" height="235.7" fill="none" stroke="#9a9a9a" stroke-width="0.8"/>
<path d="M510.8 240.08h2.6M644.1 240.08h-2.6M510.8 210.54h2.6M644.1 210.54h-2.6M510.8 181h2.6M644.1 181h-2.6M510.8 151.46h2.6M644.1 151.46h-2.6M510.8 121.92h2.6M644.1 121.92h-2.6M510.8 92.38h2.6M644.1 92.38h-2.6M510.8 62.84h2.6M644.1 62.84h-2.6M510.8 33.3h2.6M644.1 33.3h-2.6M554.7 18.5v2.6M554.7 254.2v-2.6M572.56 18.5v2.6M572.56 254.2v-2.6M590.42 18.5v2.6M590.42 254.2v-2.6M608.28 18.5v2.6M608.28 254.2v-2.6M626.14 18.5v2.6M626.14 254.2v-2.6" stroke="#8a8a8a" stroke-width="0.8" fill="none"/>
<text x="506.2" y="245.58" font-size="15.4" text-anchor="end" fill="#111" stroke="#111" stroke-width="0.2" textLength="8.5" lengthAdjust="spacingAndGlyphs">3</text>
<text x="506.2" y="216.04" font-size="15.4" text-anchor="end" fill="#111" stroke="#111" stroke-width="0.2" textLength="8.5" lengthAdjust="spacingAndGlyphs">5</text>
<text x="506.2" y="186.5" font-size="15.4" text-anchor="end" fill="#111" stroke="#111" stroke-width="0.2" textLength="8.5" lengthAdjust="spacingAndGlyphs">7</text>
<text x="506.2" y="156.96" font-size="15.4" text-anchor="end" fill="#111" stroke="#111" stroke-width="0.2" textLength="8.5" lengthAdjust="spacingAndGlyphs">9</text>
<text x="506.2" y="127.42" font-size="15.4" text-anchor="end" fill="#111" stroke="#111" stroke-width="0.2" textLength="16.2" lengthAdjust="spacingAndGlyphs">11</text>
<text x="506.2" y="97.88" font-size="15.4" text-anchor="end" fill="#111" stroke="#111" stroke-width="0.2" textLength="16.2" lengthAdjust="spacingAndGlyphs">13</text>
<text x="506.2" y="68.34" font-size="15.4" text-anchor="end" fill="#111" stroke="#111" stroke-width="0.2" textLength="16.2" lengthAdjust="spacingAndGlyphs">15</text>
<text x="506.2" y="38.8" font-size="15.4" text-anchor="end" fill="#111" stroke="#111" stroke-width="0.2" textLength="16.2" lengthAdjust="spacingAndGlyphs">17</text>
<text transform="translate(561.3 258.8) rotate(-90)" font-size="14.4" text-anchor="end" fill="#111" stroke="#111" stroke-width="0.2">0</text>
<text transform="translate(579.16 258.8) rotate(-90)" font-size="14.4" text-anchor="end" fill="#111" stroke="#111" stroke-width="0.2">20</text>
<text transform="translate(597.02 258.8) rotate(-90)" font-size="14.4" text-anchor="end" fill="#111" stroke="#111" stroke-width="0.2">40</text>
<text transform="translate(614.88 258.8) rotate(-90)" font-size="14.4" text-anchor="end" fill="#111" stroke="#111" stroke-width="0.2">60</text>
<text transform="translate(632.74 258.8) rotate(-90)" font-size="14.4" text-anchor="end" fill="#111" stroke="#111" stroke-width="0.2">80</text>
<text transform="translate(650.6 258.8) rotate(-90)" font-size="14.4" text-anchor="end" fill="#111" stroke="#111" stroke-width="0.2">100</text>
<text transform="translate(484.7 70.4) rotate(-90)" font-size="17" text-anchor="end" fill="#111" stroke="#111" stroke-width="0.2">combination order</text>
<text x="498.7" y="281.8" font-size="14.8" fill="#111" stroke="#111" stroke-width="0.2">% rank</text>
<circle cx="608.51" cy="33.3" r="3.7" fill="#000" stroke="#000" stroke-width="1"/>
<text x="594.51" y="37.4" font-size="11.3" text-anchor="end" fill="#111" stroke="#111" stroke-width="0.2">+cys</text>
<circle cx="592.01" cy="48.07" r="3.7" fill="#111" stroke="#000" stroke-width="1"/>
<text x="578.01" y="52.17" font-size="11.3" text-anchor="end" fill="#111" stroke="#111" stroke-width="0.2">+mox</text>
<circle cx="579.52" cy="62.84" r="3.7" fill="#444" stroke="#3a3a3a" stroke-width="1"/>
<text x="565.52" y="66.94" font-size="11.3" text-anchor="end" fill="#111" stroke="#111" stroke-width="0.2">+las</text>
<circle cx="570.26" cy="77.61" r="3.7" fill="#606060" stroke="#3a3a3a" stroke-width="1"/>
<text x="556.26" y="81.71" font-size="11.3" text-anchor="end" fill="#111" stroke="#111" stroke-width="0.2">+nit</text>
<circle cx="564.39" cy="92.38" r="3.7" fill="#7c7c7c" stroke="#3a3a3a" stroke-width="1"/>
<text x="550.39" y="96.48" font-size="11.3" text-anchor="end" fill="#111" stroke="#111" stroke-width="0.2">+tun</text>
<circle cx="561.05" cy="107.15" r="3.7" fill="#808080" stroke="#3a3a3a" stroke-width="1"/>
<text x="547.05" y="111.25" font-size="11.3" text-anchor="end" fill="#111" stroke="#111" stroke-width="0.2">+pre</text>
<circle cx="559.04" cy="121.92" r="3.7" fill="#909090" stroke="#3a3a3a" stroke-width="1"/>
<text x="545.04" y="126.02" font-size="11.3" text-anchor="end" fill="#111" stroke="#111" stroke-width="0.2">+pen</text>
<circle cx="557.31" cy="136.69" r="3.7" fill="#d2d2d2" stroke="#3a3a3a" stroke-width="1"/>
<text x="543.31" y="140.79" font-size="11.3" text-anchor="end" fill="#111" stroke="#111" stroke-width="0.2">+pro</text>
<circle cx="556.2" cy="151.46" r="3.7" fill="#dadada" stroke="#3a3a3a" stroke-width="1"/>
<text x="542.2" y="155.56" font-size="11.3" text-anchor="end" fill="#111" stroke="#111" stroke-width="0.2">+lin</text>
<circle cx="555.41" cy="166.23" r="3.7" fill="#fff" stroke="#3a3a3a" stroke-width="1"/>
<text x="541.41" y="170.33" font-size="11.3" text-anchor="end" fill="#111" stroke="#111" stroke-width="0.2">+chl</text>
<circle cx="554.96" cy="181" r="3.7" fill="#fff" stroke="#3a3a3a" stroke-width="1"/>
<text x="540.96" y="185.1" font-size="11.3" text-anchor="end" fill="#111" stroke="#111" stroke-width="0.2">+imp</text>
<circle cx="554.78" cy="195.77" r="3.7" fill="#fff" stroke="#3a3a3a" stroke-width="1"/>
<text x="540.78" y="199.87" font-size="11.3" text-anchor="end" fill="#111" stroke="#111" stroke-width="0.2">+sq1</text>
<circle cx="554.74" cy="210.54" r="3.7" fill="#fff" stroke="#3a3a3a" stroke-width="1"/>
<text x="540.74" y="214.64" font-size="11.3" text-anchor="end" fill="#111" stroke="#111" stroke-width="0.2">+fus</text>
<circle cx="554.71" cy="225.31" r="3.7" fill="#fff" stroke="#3a3a3a" stroke-width="1"/>
<text x="540.71" y="229.41" font-size="11.3" text-anchor="end" fill="#111" stroke="#111" stroke-width="0.2">+clz</text>
<circle cx="560.06" cy="240.08" r="3.7" fill="#999" stroke="#3a3a3a" stroke-width="1"/>
<text x="547.36" y="244.18" font-size="11.3" text-anchor="end" fill="#111" stroke="#111" stroke-width="0.2">EIR</text>
<rect x="653.4" y="0" width="31.6" height="16.5" fill="#000"/>
<text x="656" y="12" font-size="9" font-weight="bold" fill="#fff" textLength="26.2" lengthAdjust="spacingAndGlyphs">% rank</text>
<rect x="654.0" y="16.5" width="30.6" height="16.15" fill="#fff" stroke="#000" stroke-width="1.1"/>
<text x="669.5" y="27.77" font-size="8.8" text-anchor="middle" fill="#111" stroke="#111" stroke-width="0.15">60.26</text>
<rect x="654.0" y="32.65" width="30.6" height="16.15" fill="#fff" stroke="#000" stroke-width="1.1"/>
<text x="669.5" y="43.92" font-size="8.8" text-anchor="middle" fill="#111" stroke="#111" stroke-width="0.15">41.78</text>
<rect x="654.0" y="48.8" width="30.6" height="16.15" fill="#fff" stroke="#000" stroke-width="1.1"/>
<text x="669.5" y="60.08" font-size="8.8" text-anchor="middle" fill="#111" stroke="#111" stroke-width="0.15">27.79</text>
<rect x="654.0" y="64.95" width="30.6" height="16.15" fill="#fff" stroke="#000" stroke-width="1.1"/>
<text x="669.5" y="76.22" font-size="8.8" text-anchor="middle" fill="#111" stroke="#111" stroke-width="0.15">17.43</text>
<rect x="654.0" y="81.1" width="30.6" height="16.15" fill="#fff" stroke="#000" stroke-width="1.1"/>
<text x="669.5" y="92.38" font-size="8.8" text-anchor="middle" fill="#111" stroke="#111" stroke-width="0.15">10.85</text>
<rect x="654.0" y="97.25" width="30.6" height="16.15" fill="#fff" stroke="#000" stroke-width="1.1"/>
<text x="669.5" y="108.53" font-size="8.8" text-anchor="middle" fill="#111" stroke="#111" stroke-width="0.15">7.11</text>
<rect x="654.0" y="113.4" width="30.6" height="16.15" fill="#fff" stroke="#000" stroke-width="1.1"/>
<text x="669.5" y="124.67" font-size="8.8" text-anchor="middle" fill="#111" stroke="#111" stroke-width="0.15">4.86</text>
<rect x="654.0" y="129.55" width="30.6" height="16.15" fill="#fff" stroke="#000" stroke-width="1.1"/>
<text x="669.5" y="140.82" font-size="8.8" text-anchor="middle" fill="#111" stroke="#111" stroke-width="0.15">2.92</text>
<rect x="654.0" y="145.7" width="30.6" height="16.15" fill="#fff" stroke="#000" stroke-width="1.1"/>
<text x="669.5" y="156.97" font-size="8.8" text-anchor="middle" fill="#111" stroke="#111" stroke-width="0.15">1.68</text>
<rect x="654.0" y="161.85" width="30.6" height="16.15" fill="#fff" stroke="#000" stroke-width="1.1"/>
<text x="669.5" y="173.12" font-size="8.8" text-anchor="middle" fill="#111" stroke="#111" stroke-width="0.15">0.80</text>
<rect x="654.0" y="178" width="30.6" height="16.15" fill="#fff" stroke="#000" stroke-width="1.1"/>
<text x="669.5" y="189.27" font-size="8.8" text-anchor="middle" fill="#111" stroke="#111" stroke-width="0.15">0.29</text>
<rect x="654.0" y="194.15" width="30.6" height="16.15" fill="#fff" stroke="#000" stroke-width="1.1"/>
<text x="669.5" y="205.42" font-size="8.8" text-anchor="middle" fill="#111" stroke="#111" stroke-width="0.15">0.09</text>
<rect x="654.0" y="210.3" width="30.6" height="16.15" fill="#fff" stroke="#000" stroke-width="1.1"/>
<text x="669.5" y="221.57" font-size="8.8" text-anchor="middle" fill="#111" stroke="#111" stroke-width="0.15">0.05</text>
<rect x="654.0" y="226.45" width="30.6" height="16.15" fill="#fff" stroke="#000" stroke-width="1.1"/>
<text x="669.5" y="237.72" font-size="8.8" text-anchor="middle" fill="#111" stroke="#111" stroke-width="0.15">0.01</text>
<rect x="654.0" y="242.6" width="30.6" height="16.15" fill="#fff" stroke="#000" stroke-width="1.1"/>
<text x="669.5" y="253.87" font-size="8.8" text-anchor="middle" fill="#111" stroke="#111" stroke-width="0.15">6.00</text>
</svg>
</body></html>
